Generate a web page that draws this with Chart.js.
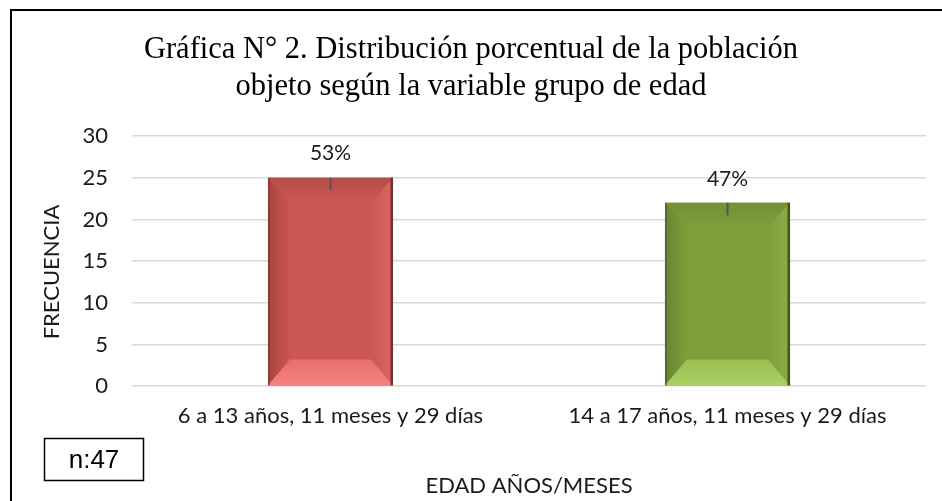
<!DOCTYPE html>
<html>
<head>
<meta charset="utf-8">
<script src="https://cdn.jsdelivr.net/npm/chart.js@4.4.1/dist/chart.umd.min.js"></script>
<style>
  html, body { margin: 0; padding: 0; background: #fff; }
  #wrap { width: 942px; height: 501px; position: relative; }
</style>
</head>
<body>
<div id="wrap"><canvas id="edadChart" width="942" height="501"></canvas></div>
<script>
// Data
const categories = ['6 a 13 años, 11 meses y 29 días', '14 a 17 años, 11 meses y 29 días'];
const frequencies = [25, 22];
const percentLabels = ['53%', '47%'];
const errorMinus = [1.5, 1.5];
const yTicks = [0, 5, 10, 15, 20, 25, 30];
const sampleNote = 'n:47';

const sansFont = 'Lato, "Open Sans", sans-serif';

// bevel palettes for the two bars
const palettes = [
  { base: '#CB5653', top: '#B64B48', left: '#A8423F', right: '#D5625E', bottomA: '#E66F6B', bottomB: '#F6837F', edge: '#6E3432' },
  { base: '#7E9E3C', top: '#728F36', left: '#688530', right: '#87AA44', bottomA: '#98BE52', bottomB: '#ABD062', edge: '#3F561C' }
];

// frame, y title and the n:47 box
const framePlugin = {
  id: 'frame',
  afterDraw(chart) {
    const ctx = chart.ctx;
    ctx.save();
    ctx.fillStyle = '#000';
    ctx.fillRect(10, 9, 2, 492);
    ctx.fillRect(10, 9, 932, 2);
    ctx.lineWidth = 1.5;
    ctx.strokeStyle = '#000';
    ctx.strokeRect(44.5, 438.5, 99, 42);
    ctx.font = '26px "Liberation Sans", Arial, sans-serif';
    ctx.textAlign = 'center';
    ctx.textBaseline = 'middle';
    ctx.fillText(sampleNote, 94, 461);
    // y axis title
    ctx.fillStyle = '#1a1a1a';
    ctx.font = '22px ' + sansFont;
    ctx.translate(52, 272);
    ctx.rotate(-Math.PI / 2);
    ctx.fillText('FRECUENCIA', 0, 0);
    ctx.restore();
  }
};

// bevelled bars, small error ticks and percentage labels
const bevelPlugin = {
  id: 'bevel',
  afterDatasetsDraw(chart) {
    const ctx = chart.ctx;
    const meta = chart.getDatasetMeta(0);
    const yScale = chart.scales.y;
    meta.data.forEach((bar, i) => {
      const p = palettes[i];
      const l = bar.x - bar.width / 2, r = bar.x + bar.width / 2;
      const t = bar.y, b = bar.base;
      const bh = 22, bt = 24, bb = 26;
      ctx.save();
      const poly = (pts, fill) => {
        ctx.beginPath();
        ctx.moveTo(pts[0][0], pts[0][1]);
        for (let k = 1; k < pts.length; k++) ctx.lineTo(pts[k][0], pts[k][1]);
        ctx.closePath();
        ctx.fillStyle = fill;
        ctx.fill();
      };
      let g = ctx.createLinearGradient(l, 0, l + bh, 0);
      g.addColorStop(0, p.left); g.addColorStop(1, p.base);
      poly([[l, t], [l + bh, t + bt], [l + bh, b - bb], [l, b]], g);
      g = ctx.createLinearGradient(r - bh, 0, r, 0);
      g.addColorStop(0, p.base); g.addColorStop(0.7, p.right); g.addColorStop(1, p.right);
      poly([[r, t], [r - bh, t + bt], [r - bh, b - bb], [r, b]], g);
      g = ctx.createLinearGradient(0, t, 0, t + bt);
      g.addColorStop(0, p.top); g.addColorStop(1, p.base);
      poly([[l, t], [r, t], [r - bh, t + bt], [l + bh, t + bt]], g);
      g = ctx.createLinearGradient(0, b - bb, 0, b);
      g.addColorStop(0, p.bottomA); g.addColorStop(1, p.bottomB);
      poly([[l, b], [r, b], [r - bh, b - bb], [l + bh, b - bb]], g);
      // dark edges
      ctx.fillStyle = p.edge;
      ctx.fillRect(r - 2.5, t, 2.5, b - t);
      ctx.globalAlpha = 0.5;
      ctx.fillRect(l, t, 2, b - t);
      ctx.globalAlpha = 1;
      // minus error tick
      const yErr = yScale.getPixelForValue(frequencies[i] - errorMinus[i]);
      ctx.strokeStyle = '#555';
      ctx.lineWidth = 2;
      ctx.beginPath();
      ctx.moveTo(bar.x, t);
      ctx.lineTo(bar.x, yErr);
      ctx.stroke();
      // percentage label
      ctx.fillStyle = '#1a1a1a';
      ctx.font = '21px ' + sansFont;
      ctx.textAlign = 'center';
      ctx.textBaseline = 'middle';
      ctx.fillText(percentLabels[i], bar.x, t - 24);
      ctx.restore();
    });
  }
};

new Chart(document.getElementById('edadChart').getContext('2d'), {
  type: 'bar',
  data: {
    labels: categories,
    datasets: [{
      label: 'Frecuencia',
      data: frequencies,
      backgroundColor: palettes.map(p => p.base),
      borderWidth: 0,
      categoryPercentage: 1.0,
      barPercentage: 0.315
    }]
  },
  options: {
    responsive: false,
    animation: false,
    layout: { padding: 0 },
    plugins: {
      legend: { display: false },
      tooltip: { enabled: false },
      title: {
        display: true,
        text: ['Gráfica N° 2. Distribución porcentual de la población', 'objeto según la variable grupo de edad'],
        color: '#000',
        font: { family: '"Liberation Serif", "Times New Roman", serif', size: 30.5, weight: 'normal', lineHeight: 1.22 },
        padding: { top: 31, bottom: 30.6 }
      }
    },
    scales: {
      y: {
        min: 0,
        max: 30,
        afterBuildTicks: (scale) => { scale.ticks = yTicks.map(v => ({ value: v })); },
        afterFit: (scale) => { scale.width = 132; },
        grid: { color: '#D9D9D9', lineWidth: 1.5, drawTicks: false },
        border: { display: false },
        ticks: { color: '#1a1a1a', padding: 24, font: { family: sansFont, size: 22 } }
      },
      yRight: {
        position: 'right',
        afterFit: (scale) => { scale.width = 16; },
        grid: { display: false, drawTicks: false },
        border: { display: false },
        ticks: { display: false }
      },
      x: {
        grid: { display: false, drawTicks: false },
        border: { display: false },
        ticks: { color: '#1a1a1a', padding: 17, maxRotation: 0, font: { family: sansFont, size: 22 } },
        title: {
          display: true,
          text: 'EDAD AÑOS/MESES',
          color: '#1a1a1a',
          font: { family: sansFont, size: 22 },
          padding: { top: 26, bottom: 2 }
        }
      }
    }
  },
  plugins: [bevelPlugin, framePlugin]
});
</script>
</body>
</html>
